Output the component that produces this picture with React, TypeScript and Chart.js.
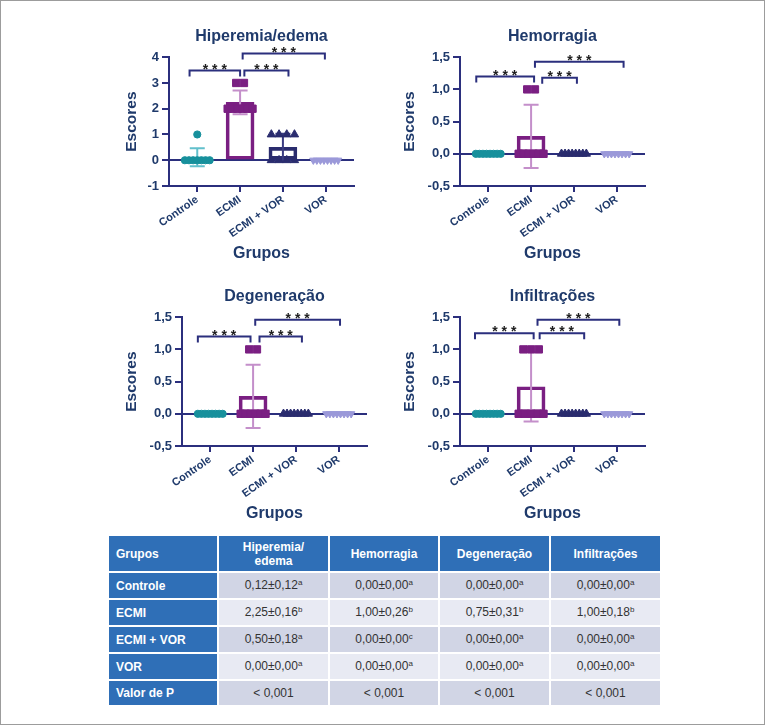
import { useEffect, useRef } from "react";
import { Chart, registerables } from "chart.js";

Chart.register(...registerables);

const FONT = "'Liberation Sans', Arial, Helvetica, sans-serif";
Chart.defaults.font.family = FONT;

// ---- data ----
const groups = ["Controle", "ECMI", "ECMI + VOR", "VOR"];

// individual animal scores per group (Controle, ECMI, ECMI + VOR, VOR)
const hiperemiaScores = [
  [0, 0, 0, 0, 0, 0, 0, 1],
  [3, 3, 2, 2, 2, 2, 2, 2],
  [1, 1, 1, 1, 0, 0, 0, 0],
  [0, 0, 0, 0, 0, 0, 0, 0],
];
const hiperemiaMeans = [0.12, 2.25, 0.5, 0];
const hiperemiaSD = [0.35, 0.46, 0.53, 0];

const hemorragiaScores = [
  [0, 0, 0, 0, 0, 0, 0, 0],
  [1, 1, 0, 0, 0, 0, 0, 0],
  [0, 0, 0, 0, 0, 0, 0, 0],
  [0, 0, 0, 0, 0, 0, 0, 0],
];
const hemorragiaMeans = [0, 0.27, 0, 0];
const hemorragiaSD = [0, 0.49, 0, 0];

const degeneracaoScores = [
  [0, 0, 0, 0, 0, 0, 0, 0],
  [1, 1, 0, 0, 0, 0, 0, 0],
  [0, 0, 0, 0, 0, 0, 0, 0],
  [0, 0, 0, 0, 0, 0, 0, 0],
];
const degeneracaoMeans = [0, 0.27, 0, 0];
const degeneracaoSD = [0, 0.49, 0, 0];

const infiltracoesScores = [
  [0, 0, 0, 0, 0, 0, 0, 0],
  [1, 1, 1, 0, 0, 0, 0, 0],
  [0, 0, 0, 0, 0, 0, 0, 0],
  [0, 0, 0, 0, 0, 0, 0, 0],
];
const infiltracoesMeans = [0, 0.42, 0, 0];
const infiltracoesSD = [0, 0.54, 0, 0];

// significance brackets: [from group, to group, height]
const hiperemiaBrackets = [
  [-0.18, 1.0, 3.48],
  [1.1, 2.13, 3.48],
  [1.06, 2.98, 4.14],
];
const hemorragiaBrackets = [
  [-0.28, 1.07, 1.2],
  [1.26, 2.07, 1.18],
  [1.09, 3.16, 1.43],
];
const degeneracaoBrackets = [
  [-0.29, 0.94, 1.2],
  [1.15, 2.14, 1.2],
  [1.05, 3.03, 1.46],
];
const infiltracoesBrackets = [
  [-0.31, 1.06, 1.25],
  [1.2, 2.24, 1.25],
  [1.15, 3.06, 1.46],
];

const hiperemiaTicks = [-1, 0, 1, 2, 3, 4];
const scoreTicks = [-0.5, 0, 0.5, 1, 1.5];

// summary table
const tableHeader = ["Grupos", "Hiperemia/\nedema", "Hemorragia", "Degeneração", "Infiltrações"];
const tableGroups = ["Controle", "ECMI", "ECMI + VOR", "VOR", "Valor de P"];
const tableValues = [
  ["0,12±0,12", "0,00±0,00", "0,00±0,00", "0,00±0,00"],
  ["2,25±0,16", "1,00±0,26", "0,75±0,31", "1,00±0,18"],
  ["0,50±0,18", "0,00±0,00", "0,00±0,00", "0,00±0,00"],
  ["0,00±0,00", "0,00±0,00", "0,00±0,00", "0,00±0,00"],
  ["< 0,001", "< 0,001", "< 0,001", "< 0,001"],
];
const tableLetters = [
  ["a", "a", "a", "a"],
  ["b", "b", "b", "b"],
  ["a", "c", "a", "a"],
  ["a", "a", "a", "a"],
  ["", "", "", ""],
];

// ---- styling ----
const AXIS = "#2b2f7d";
const TEXT = "#1f3a6b";
const groupColors = ["#17909c", "#7a1f82", "#2a2c6e", "#9b99d9"];
const errorColors = ["#62c0cc", "#c48fca", "#3a3c82", "#9b99d9"];
const pointStyles = ["circle", "rect", "triangle", "triangle"];
const pointRotations = [0, 0, 0, 180];
const pointSizes = [3.6, 5.2, 4.8, 4.2];

type ChartSpec = {
  title: string;
  scores: number[][];
  means: number[];
  sds: number[];
  brackets: number[][];
  ticks: number[];
  decimals: number;
};

type Box = { left: number; top: number; width: number; yWidth: number };

const HEIGHT = 255;

const charts: { spec: ChartSpec; box: Box }[] = [
  {
    spec: { title: "Hiperemia/edema", scores: hiperemiaScores, means: hiperemiaMeans, sds: hiperemiaSD, brackets: hiperemiaBrackets, ticks: hiperemiaTicks, decimals: 0 },
    box: { left: 110, top: 15, width: 258, yWidth: 58 },
  },
  {
    spec: { title: "Hemorragia", scores: hemorragiaScores, means: hemorragiaMeans, sds: hemorragiaSD, brackets: hemorragiaBrackets, ticks: scoreTicks, decimals: 1 },
    box: { left: 388, top: 15, width: 271, yWidth: 71 },
  },
  {
    spec: { title: "Degeneração", scores: degeneracaoScores, means: degeneracaoMeans, sds: degeneracaoSD, brackets: degeneracaoBrackets, ticks: scoreTicks, decimals: 1 },
    box: { left: 110, top: 275, width: 271, yWidth: 71 },
  },
  {
    spec: { title: "Infiltrações", scores: infiltracoesScores, means: infiltracoesMeans, sds: infiltracoesSD, brackets: infiltracoesBrackets, ticks: scoreTicks, decimals: 1 },
    box: { left: 388, top: 275, width: 271, yWidth: 71 },
  },
];

// spread tied scores side by side around the group position
function spreadPoints(values: number[], group: number) {
  const counts = new Map<number, number>();
  values.forEach((v) => counts.set(v, (counts.get(v) || 0) + 1));
  const seen = new Map<number, number>();
  return values.map((v) => {
    const n = counts.get(v) as number;
    const k = seen.get(v) || 0;
    seen.set(v, k + 1);
    const step = n > 1 ? Math.min(0.18, 0.58 / (n - 1)) : 0;
    return { x: group + (k - (n - 1) / 2) * step, y: v };
  });
}

function ScoreChart({ spec, box }: { spec: ChartSpec; box: Box }) {
  const ref = useRef<HTMLCanvasElement>(null);

  useEffect(() => {
    const canvas = ref.current;
    if (!canvas) return;

    const barIndex = groups.length;

    const errorBars = {
      id: "errorBars",
      afterDatasetDraw(chart: any, args: any) {
        if (args.index !== barIndex) return;
        const { ctx } = chart;
        const x = chart.scales.x;
        const y = chart.scales.y;
        ctx.save();
        ctx.lineWidth = 2;
        spec.means.forEach((m, i) => {
          const sd = spec.sds[i];
          if (!sd) return;
          const cx = x.getPixelForValue(i);
          const top = y.getPixelForValue(m + sd);
          const bot = y.getPixelForValue(m - sd);
          ctx.strokeStyle = errorColors[i];
          ctx.beginPath();
          ctx.moveTo(cx, top);
          ctx.lineTo(cx, bot);
          ctx.moveTo(cx - 7.5, top);
          ctx.lineTo(cx + 7.5, top);
          ctx.moveTo(cx - 7.5, bot);
          ctx.lineTo(cx + 7.5, bot);
          ctx.stroke();
        });
        ctx.restore();
      },
    };

    const brackets = {
      id: "brackets",
      afterDraw(chart: any) {
        const { ctx } = chart;
        const x = chart.scales.x;
        const y = chart.scales.y;
        ctx.save();
        ctx.strokeStyle = AXIS;
        ctx.lineWidth = 2;
        ctx.fillStyle = "#1e1e1e";
        ctx.font = `bold 14px ${FONT}`;
        ctx.textAlign = "center";
        ctx.textBaseline = "alphabetic";
        spec.brackets.forEach(([a, b, level]) => {
          const x1 = x.getPixelForValue(a);
          const x2 = x.getPixelForValue(b);
          const yy = y.getPixelForValue(level);
          ctx.beginPath();
          ctx.moveTo(x1, yy + 6);
          ctx.lineTo(x1, yy);
          ctx.lineTo(x2, yy);
          ctx.lineTo(x2, yy + 6);
          ctx.stroke();
          ctx.fillText("* * *", (x1 + x2) / 2, yy + 3);
        });
        ctx.restore();
      },
    };

    const scatterSets = spec.scores.map((vals, g) => ({
      type: "scatter" as const,
      data: spreadPoints(vals, g),
      pointStyle: pointStyles[g],
      rotation: pointRotations[g],
      pointRadius: pointSizes[g],
      backgroundColor: groupColors[g],
      borderColor: groupColors[g],
      borderWidth: 1,
      order: 1,
    }));

    const barSet = {
      type: "bar" as const,
      data: spec.means.map((m, i) => ({ x: i, y: m })),
      backgroundColor: "rgba(0,0,0,0)",
      borderColor: groupColors,
      borderWidth: 3,
      borderSkipped: false,
      barThickness: 28,
      order: 2,
    };

    const fmt = (v: number) => (spec.decimals ? v.toFixed(spec.decimals).replace(".", ",") : String(v));

    const chart = new Chart(canvas, {
      type: "bar",
      data: { datasets: [...scatterSets, barSet] as any },
      options: {
        responsive: false,
        animation: false,
        layout: { padding: { left: 0, right: 15, top: 0, bottom: 0 } },
        plugins: {
          legend: { display: false },
          tooltip: { enabled: false },
          title: {
            display: true,
            text: spec.title,
            color: TEXT,
            font: { size: 16, weight: "bold" },
            padding: { top: 11, bottom: 11 },
            fullSize: false,
          },
        },
        scales: {
          x: {
            type: "linear",
            offset: false,
            min: -0.66,
            max: 3.66,
            afterBuildTicks: (s: any) => {
              s.ticks = groups.map((_, i) => ({ value: i }));
            },
            afterFit: (s: any) => {
              s.height = 85;
            },
            ticks: {
              autoSkip: false,
              minRotation: 35,
              maxRotation: 35,
              padding: 1,
              color: TEXT,
              font: { size: 11, weight: "bold" },
              callback: (v: any) => groups[v as number],
            },
            grid: {
              offset: false,
              drawOnChartArea: false,
              color: AXIS,
              tickColor: AXIS,
              tickLength: 6,
              lineWidth: 2,
            },
            border: { display: true, color: AXIS, width: 2 },
            title: {
              display: true,
              text: "Grupos",
              color: TEXT,
              font: { size: 16, weight: "bold" },
              padding: { top: 4, bottom: 8 },
            },
          },
          y: {
            min: spec.ticks[0],
            max: spec.ticks[spec.ticks.length - 1],
            afterBuildTicks: (s: any) => {
              s.ticks = spec.ticks.map((v) => ({ value: v }));
            },
            afterFit: (s: any) => {
              s.width = box.yWidth;
            },
            ticks: {
              padding: 3,
              color: TEXT,
              font: { size: 13, weight: "bold" },
              callback: (v: any) => fmt(v as number),
            },
            grid: {
              color: (c: any) => (c.tick && c.tick.value === 0 ? AXIS : "rgba(0,0,0,0)"),
              tickColor: AXIS,
              tickLength: 7,
              lineWidth: 2,
            },
            border: { display: true, color: AXIS, width: 2 },
            title: {
              display: true,
              text: "Escores",
              color: TEXT,
              font: { size: 15.5, weight: "bold" },
              padding: { top: 11, bottom: 4 },
            },
          },
        },
      } as any,
      plugins: [errorBars, brackets],
    });

    return () => chart.destroy();
  }, [spec, box]);

  return (
    <div style={{ position: "absolute", left: box.left, top: box.top, width: box.width, height: HEIGHT }}>
      <canvas ref={ref} width={box.width} height={HEIGHT} style={{ width: box.width, height: HEIGHT, display: "block" }} />
    </div>
  );
}

const BLUE = "#2f6fb7";
const ROW_DARK = "#d1d5e5";
const ROW_LIGHT = "#e8eaf3";
const colWidths = [110, 111, 110, 111, 111];

function SummaryTable() {
  const cellBase: React.CSSProperties = {
    border: "2px solid #ffffff",
    padding: 0,
    fontSize: 12,
    lineHeight: "14px",
  };
  return (
    <table
      style={{
        position: "absolute",
        left: 106,
        top: 533,
        width: 553,
        borderCollapse: "collapse",
        tableLayout: "fixed",
        fontFamily: FONT,
      }}
    >
      <colgroup>
        {colWidths.map((w, i) => (
          <col key={i} style={{ width: w }} />
        ))}
      </colgroup>
      <tbody>
        <tr style={{ height: 37 }}>
          {tableHeader.map((h, i) => (
            <td
              key={i}
              style={{
                ...cellBase,
                background: BLUE,
                color: "#ffffff",
                fontWeight: "bold",
                textAlign: i === 0 ? "left" : "center",
                paddingLeft: i === 0 ? 7 : 0,
                whiteSpace: "pre-line",
              }}
            >
              {h}
            </td>
          ))}
        </tr>
        {tableGroups.map((g, r) => (
          <tr key={g} style={{ height: r === tableGroups.length - 1 ? 26 : 27 }}>
            <td
              style={{
                ...cellBase,
                background: BLUE,
                color: "#ffffff",
                fontWeight: "bold",
                textAlign: "left",
                paddingLeft: 7,
              }}
            >
              {g}
            </td>
            {tableValues[r].map((v, c) => (
              <td
                key={c}
                style={{
                  ...cellBase,
                  background: r % 2 === 0 ? ROW_DARK : ROW_LIGHT,
                  color: "#333333",
                  textAlign: "center",
                }}
              >
                {v}
                {tableLetters[r][c] ? (
                  <span style={{ fontSize: 8, position: "relative", top: -4 }}>{tableLetters[r][c]}</span>
                ) : null}
              </td>
            ))}
          </tr>
        ))}
      </tbody>
    </table>
  );
}

export default function App() {
  return (
    <>
      <style>{`html,body{margin:0;padding:0;background:#fff}`}</style>
      <div
        style={{
          position: "relative",
          width: 765,
          height: 725,
          boxSizing: "border-box",
          border: "1px solid #9c9c9c",
          background: "#ffffff",
          overflow: "hidden",
        }}
      >
        {charts.map((c, i) => (
          <ScoreChart key={i} spec={c.spec} box={c.box} />
        ))}
        <SummaryTable />
      </div>
    </>
  );
}
